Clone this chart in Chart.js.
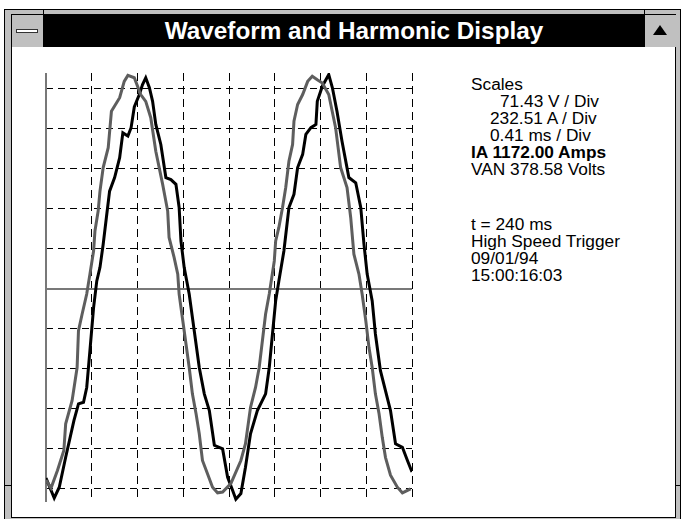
<!DOCTYPE html>
<html>
<head>
<meta charset="utf-8">
<script src="https://cdn.jsdelivr.net/npm/chart.js@4.4.1/dist/chart.umd.min.js"></script>
<style>
    html, body { margin: 0; background: #fff; overflow: hidden; font-family: Arial, "Liberation Sans", sans-serif; }
    .abs { position: absolute; }
    .frame { left: 4px; top: 9px; width: 675px; height: 520px; background: #c0c0c0; border: 1px solid #000; }
    .janela { left: 11px; top: 14px; width: 663px; height: 502px; background: #fff; border: 1px solid #000; }
    .barra { left: 12px; top: 15px; width: 663px; height: 32px; background: #000; }
    .botao { top: 15px; width: 31px; height: 32px; background: #c0c0c0; }
    .titulo { left: 4px; top: 14px; width: 700px; text-align: center; line-height: 33px; color: #fff; font-weight: bold; font-size: 24.3px; }
    .info { font-size: 17.3px; line-height: 17px; color: #000; white-space: pre; }
</style>
</head>
<body>
<div class="abs frame"></div>
<div class="abs janela"></div>
<div class="abs barra"></div>
<div class="abs botao" style="left:12px; border-right:1px solid #000;"></div>
<div class="abs" style="left:16px; top:29px; width:20px; height:2px; background:#fff; border:1px solid #333;"></div>
<div class="abs botao" style="left:644px; border-left:1px solid #000;"></div>
<div class="abs" style="left:653px; top:25px; width:0; height:0; border-left:7px solid transparent; border-right:7px solid transparent; border-bottom:10px solid #000;"></div>
<!-- marcas dos cantos da moldura -->
<div class="abs" style="left:43px; top:9px; width:1px; height:5px; background:#000;"></div>
<div class="abs" style="left:644px; top:9px; width:1px; height:5px; background:#000;"></div>
<div class="abs" style="left:4px; top:485px; width:7px; height:1px; background:#000;"></div>
<div class="abs" style="left:675px; top:485px; width:6px; height:1px; background:#000;"></div>
<div class="abs titulo">Waveform and Harmonic Display</div>

<canvas id="grafico_onda" class="abs" style="left:40px; top:67px;" width="378" height="441"></canvas>

<div class="abs info" style="left:471px; top:76px;">Scales
<span style="padding-left:29px">71.43 V / Div</span>
<span style="padding-left:19px">232.51 A / Div</span>
<span style="padding-left:19px">0.41 ms / Div</span>
<b>IA 1172.00 Amps</b>
VAN 378.58 Volts</div>

<div class="abs info" style="left:471px; top:216px;">t = 240 ms
High Speed Trigger
09/01/94
15:00:16:03</div>

<script>
// tempo em divisoes (0.41 ms / div) e amplitude em divisoes
const tempoVan = [0.00, 0.11, 0.25, 0.39, 0.43, 0.57, 0.68, 0.71, 0.79, 0.89, 0.96, 1.04, 1.07, 1.14, 1.18, 1.25, 1.36, 1.43, 1.61, 1.71, 1.79, 1.93,
    2.07, 2.18, 2.29, 2.40, 2.55, 2.66, 2.69, 2.80, 2.88, 2.91, 2.99, 3.06, 3.13, 3.20, 3.28, 3.35, 3.42, 3.53, 3.64, 3.75, 3.86, 4.04,
    4.26, 4.36, 4.47, 4.58, 4.66, 4.73, 4.80, 4.88, 4.99, 5.02, 5.09, 5.17, 5.24, 5.31, 5.39, 5.42, 5.50, 5.61, 5.72, 5.82, 5.93,
    6.04, 6.18, 6.33, 6.44, 6.58, 6.66, 6.73, 6.84, 6.91, 6.99, 7.06, 7.13, 7.20, 7.28, 7.35, 7.42, 7.53, 7.68, 7.79, 7.97];
const valoresVan = [-4.80, -5.00, -4.56, -4.06, -3.39, -2.81, -1.98, -1.06, -0.64, -0.14, 0.36, 0.94, 1.44, 1.94, 2.44, 3.03, 3.53, 4.44, 4.78, 5.19, 5.34, 5.28,
    4.86, 4.69, 4.28, 3.44, 2.61, 1.94, 1.28, 0.78, 0.36, -0.14, -0.81, -1.39, -1.98, -2.64, -3.14, -3.64, -4.31, -4.64, -4.98, -5.12, -5.10, -4.89,
    -4.31, -3.89, -2.98, -2.48, -1.98, -1.31, -0.64, -0.14, 0.69, 1.19, 1.53, 2.03, 2.53, 3.19, 3.61, 4.19, 4.61, 4.86, 5.19, 5.32, 5.23,
    5.15, 4.86, 4.03, 3.03, 2.53, 1.78, 0.86, 0.36, -0.14, -0.81, -1.48, -1.98, -2.64, -3.14, -3.73, -4.23, -4.68, -4.98, -5.12, -5.02];

const tempoIa = [0.00, 0.18, 0.29, 0.43, 0.61, 0.71, 0.82, 0.89, 0.96, 1.04, 1.11, 1.18, 1.25, 1.32, 1.39, 1.50, 1.61, 1.68, 1.79, 1.86, 1.93,
    2.04, 2.11, 2.18, 2.26, 2.33, 2.40, 2.51, 2.62, 2.73, 2.84, 2.91, 2.95, 3.02, 3.13, 3.24, 3.35, 3.46, 3.57, 3.68, 3.86, 3.97,
    4.08, 4.15, 4.26, 4.36, 4.47, 4.62, 4.80, 4.88, 4.95, 5.02, 5.09, 5.20, 5.31, 5.42, 5.50, 5.61, 5.68, 5.79, 5.90, 5.93,
    6.04, 6.18, 6.26, 6.36, 6.47, 6.62, 6.77, 6.88, 6.95, 7.02, 7.13, 7.20, 7.31, 7.42, 7.53, 7.64, 7.79, 7.90, 8.00];
const valoresIa = [-4.75, -5.25, -4.98, -4.23, -3.31, -2.89, -2.85, -2.48, -1.56, -0.48, 0.19, 0.53, 1.11, 1.78, 2.44, 2.78, 3.28, 3.90, 3.82, 4.03, 4.55,
    4.86, 5.11, 5.28, 5.03, 4.69, 4.11, 3.61, 2.78, 2.73, 2.61, 2.03, 1.19, 0.53, -0.14, -1.06, -1.98, -2.64, -3.06, -3.93, -4.02, -4.73,
    -5.06, -5.28, -5.14, -4.48, -3.64, -3.06, -2.64, -1.98, -1.14, -0.31, 0.19, 0.94, 2.03, 2.36, 3.03, 3.36, 3.86, 4.03, 4.11, 4.69,
    5.07, 5.36, 5.03, 4.44, 3.69, 2.78, 2.65, 2.03, 1.11, 0.36, -0.31, -1.14, -2.06, -2.56, -3.06, -3.89, -3.98, -4.31, -4.60];

// divisoes do osciloscopio
const divisoesX = [0, 8];
const divisoesY = [-5.35, 5.4];

function montarPontos(tempos, valores) {
    return tempos.map((t, i) => ({ x: t, y: valores[i] }));
}

// desenha os eixos cinza (linha do zero e borda esquerda)
const eixosZero = {
    id: 'eixosZero',
    beforeDatasetsDraw(chart) {
        const ctx = chart.ctx;
        const area = chart.chartArea;
        const y0 = Math.round(chart.scales.y.getPixelForValue(0)) + 1;
        const x0 = Math.round(chart.scales.x.getPixelForValue(0));
        ctx.save();
        ctx.strokeStyle = '#787878';
        ctx.lineWidth = 2;
        ctx.beginPath();
        ctx.moveTo(x0, y0);
        ctx.lineTo(area.right, y0);
        ctx.moveTo(x0, area.top);
        ctx.lineTo(x0, area.bottom);
        ctx.stroke();
        ctx.restore();
    }
};

const configOnda = {
    type: 'line',
    data: {
        datasets: [{
            label: 'VAN',
            data: montarPontos(tempoVan, valoresVan),
            borderColor: '#5e5e5e',
            borderWidth: 3,
            pointRadius: 0,
            tension: 0
        },
        {
            label: 'IA',
            data: montarPontos(tempoIa, valoresIa),
            borderColor: '#000000',
            borderWidth: 3,
            pointRadius: 0,
            tension: 0
        }]
    },
    options: {
        responsive: false,
        animation: false,
        layout: { padding: 6 },
        plugins: {
            legend: { display: false },
            tooltip: { enabled: false }
        },
        scales: {
            x: {
                type: 'linear',
                min: divisoesX[0],
                max: divisoesX[1],
                ticks: { display: false, stepSize: 1 },
                grid: {
                    drawTicks: false,
                    color: (c) => c.tick && c.tick.value === 0 ? 'rgba(0,0,0,0)' : '#000'
                },
                border: { display: false, dash: [8, 5] }
            },
            y: {
                min: divisoesY[0],
                max: divisoesY[1],
                ticks: { display: false, stepSize: 1, includeBounds: false },
                grid: {
                    drawTicks: false,
                    color: (c) => c.tick && c.tick.value === 0 ? 'rgba(0,0,0,0)' : '#000'
                },
                border: { display: false, dash: [7, 5] }
            }
        }
    },
    plugins: [eixosZero]
};

let meuGraficoOnda = new Chart(
    document.getElementById('grafico_onda'),
    configOnda
);
</script>
</body>
</html>
